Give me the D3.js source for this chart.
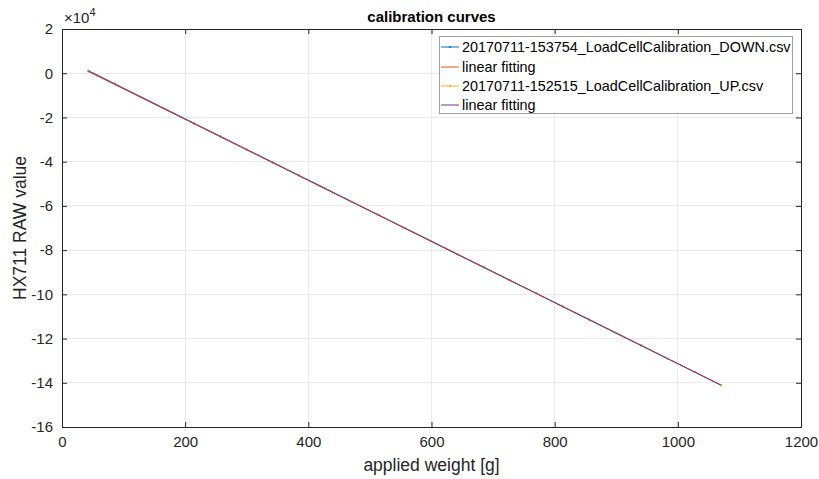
<!DOCTYPE html>
<html>
<head>
<meta charset="utf-8">
<script src="https://cdn.jsdelivr.net/npm/d3@7"></script>
<style>
  html, body { margin: 0; padding: 0; background: #fff; }
  svg { display: block; font-family: "Liberation Sans", Arial, sans-serif; }
</style>
</head>
<body>
<svg id="chart" width="819" height="479"></svg>
<script>
// Applied weights (g) for both calibration runs
const weightsDown = [43, 86, 128, 171, 214, 257, 300, 342, 385, 428, 471, 514, 556,
  599, 642, 685, 727, 770, 813, 856, 899, 941, 984, 1027, 1070];
const weightsUp = [43, 86, 128, 171, 214, 257, 300, 342, 385, 428, 471, 514, 556,
  599, 642, 685, 727, 770, 813, 856, 899, 941, 984, 1027, 1070];

// HX711 raw readings
const rawDown = [1100, -4830, -10690, -16580, -22590, -28480, -34500, -40260, -46250,
  -52150, -58160, -64060, -69930, -75820, -81830, -87720, -93590, -99480, -105500,
  -111390, -117400, -123150, -129160, -135050, -141060];
const rawUp = [700, -5100, -10900, -16800, -22750, -28700, -34620, -40400, -46380,
  -52300, -58270, -64200, -70050, -75950, -81900, -87850, -93680, -99600, -105560,
  -111500, -117450, -123250, -129220, -135150, -141080];

const seriesNames = [
  "20170711-153754_LoadCellCalibration_DOWN.csv",
  "linear fitting",
  "20170711-152515_LoadCellCalibration_UP.csv",
  "linear fitting"
];
const seriesColors = ["#0072BD", "#D95319", "#EDB120", "#7E2F8E"];

const xTicks = [0, 200, 400, 600, 800, 1000, 1200];
const yTicks = [2, 0, -2, -4, -6, -8, -10, -12, -14, -16]; // in units of 1e4

const titleText = "calibration curves";
const xLabelText = "applied weight [g]";
const yLabelText = "HX711 RAW value";

// ---- layout ----
const svg = d3.select("#chart");
const L = 62, R = 801, T = 29, B = 427;
const x = d3.scaleLinear().domain([0, 1200]).range([L, R]);
const y = d3.scaleLinear().domain([-160000, 20000]).range([B, T]);
const axColor = "#262626";
const gridColor = "#ebebeb";

// least-squares line through a series
function fit(xs, ys) {
  const n = xs.length;
  const mx = d3.mean(xs), my = d3.mean(ys);
  let num = 0, den = 0;
  for (let i = 0; i < n; i++) { num += (xs[i] - mx) * (ys[i] - my); den += (xs[i] - mx) ** 2; }
  const a = num / den, b = my - a * mx;
  const x0 = d3.min(xs), x1 = d3.max(xs);
  return [[x0, a * x0 + b], [x1, a * x1 + b]];
}

// grid
const grid = svg.append("g");
grid.selectAll(".gx").data(xTicks.slice(1, -1)).join("line")
  .attr("x1", d => x(d)).attr("x2", d => x(d)).attr("y1", T).attr("y2", B)
  .attr("stroke", gridColor).attr("stroke-width", 1).attr("shape-rendering", "crispEdges");
grid.selectAll(".gy").data(yTicks.slice(1, -1)).join("line")
  .attr("y1", d => y(d * 1e4)).attr("y2", d => y(d * 1e4)).attr("x1", L).attr("x2", R)
  .attr("stroke", gridColor).attr("stroke-width", 1).attr("shape-rendering", "crispEdges");

// data
svg.append("clipPath").attr("id", "clip").append("rect")
  .attr("x", L).attr("y", T).attr("width", R - L).attr("height", B - T);
const plot = svg.append("g").attr("clip-path", "url(#clip)");
const line = d3.line().x(d => x(d[0])).y(d => y(d[1]));

const downPts = weightsDown.map((w, i) => [w, rawDown[i]]);
const upPts = weightsUp.map((w, i) => [w, rawUp[i]]);
const layers = [
  { pts: downPts, color: seriesColors[0], dots: true },
  { pts: fit(weightsDown, rawDown), color: seriesColors[1], dots: false },
  { pts: upPts, color: seriesColors[2], dots: true },
  { pts: fit(weightsUp, rawUp), color: seriesColors[3], dots: false }
];
layers.forEach(l => {
  plot.append("path").datum(l.pts).attr("d", line)
    .attr("fill", "none").attr("stroke", l.color).attr("stroke-width", 1);
  if (l.dots) {
    plot.selectAll(null).data(l.pts).join("circle")
      .attr("cx", d => x(d[0])).attr("cy", d => y(d[1])).attr("r", 1.1)
      .attr("fill", l.color);
  }
});

// axes (box with inward ticks)
const axG = svg.append("g");
const xAxisB = d3.axisBottom(x).tickValues(xTicks).tickSize(-5).tickPadding(9).tickFormat(d3.format("d"));
const xAxisT = d3.axisTop(x).tickValues(xTicks).tickSize(-5).tickFormat("");
const yAxisL = d3.axisLeft(y).tickValues(yTicks.map(v => v * 1e4)).tickSize(-5).tickPadding(9)
  .tickFormat(d => String(d / 1e4));
const yAxisR = d3.axisRight(y).tickValues(yTicks.map(v => v * 1e4)).tickSize(-5).tickFormat("");

[[xAxisB, `translate(0,${B})`], [xAxisT, `translate(0,${T})`],
 [yAxisL, `translate(${L},0)`], [yAxisR, `translate(${R},0)`]].forEach(([ax, tr]) => {
  const g = axG.append("g").attr("transform", tr).call(ax);
  g.select(".domain").attr("stroke", axColor).attr("stroke-width", 1);
  g.selectAll(".tick line").attr("stroke", axColor).attr("stroke-width", 1);
  g.selectAll(".tick text").attr("fill", axColor).attr("font-size", 15)
    .attr("font-family", "Liberation Sans, Arial, sans-serif");
});

// exponent marker
const ex = svg.append("text").attr("x", 64).attr("y", 23).attr("fill", axColor)
  .attr("font-size", 15);
ex.append("tspan").text("\u00d710");
ex.append("tspan").attr("dy", -7).attr("font-size", 11).text("4");

// title and axis labels
svg.append("text").attr("x", (L + R) / 2).attr("y", 22).attr("text-anchor", "middle")
  .attr("font-weight", "bold").attr("font-size", 15).attr("fill", "#000").text(titleText);
svg.append("text").attr("x", (L + R) / 2).attr("y", 471).attr("text-anchor", "middle")
  .attr("font-size", 17.5).attr("fill", axColor).text(xLabelText);
svg.append("text").attr("transform", `translate(26,${(T + B) / 2}) rotate(-90)`)
  .attr("text-anchor", "middle").attr("font-size", 17.5).attr("fill", axColor).text(yLabelText);

// legend
const lg = svg.append("g");
lg.append("rect").attr("x", 439.5).attr("y", 36.5).attr("width", 353).attr("height", 77)
  .attr("fill", "#fff").attr("stroke", "#a0a0a0").attr("stroke-width", 1);
const rowY = [47, 67, 86, 105];
svg.append("clipPath").attr("id", "lgclip").append("rect")
  .attr("x", 440).attr("y", 37).attr("width", 352).attr("height", 76);
const lgInner = lg.append("g").attr("clip-path", "url(#lgclip)");
seriesNames.forEach((name, i) => {
  lgInner.append("line").attr("x1", 441).attr("x2", 459).attr("y1", rowY[i]).attr("y2", rowY[i])
    .attr("stroke", seriesColors[i]).attr("stroke-width", 1);
  if (layers[i].dots) {
    lgInner.append("circle").attr("cx", 450).attr("cy", rowY[i]).attr("r", 1.1).attr("fill", seriesColors[i]);
  }
  lgInner.append("text").attr("x", 462).attr("y", rowY[i]).attr("dy", "0.35em")
    .attr("font-size", 14.4).attr("fill", "#000").text(name);
});
</script>
</body>
</html>
